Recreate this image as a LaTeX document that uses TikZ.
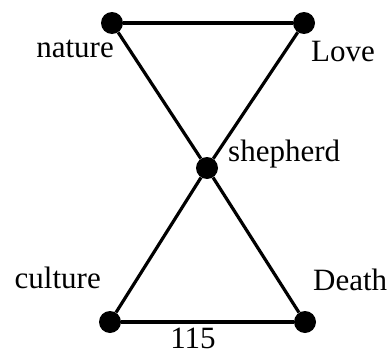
\documentclass[tikz,border=0pt]{standalone}
\usepackage{fontspec}
\setmainfont{Liberation Serif}
\usetikzlibrary{positioning}

\begin{document}
\begin{tikzpicture}[
    x=1pt, y=-1pt,
    dotStyle/.style={circle, fill=black, draw=none, inner sep=0pt, minimum size=22pt},
    labelStyle/.style={inner sep=0pt, font=\fontsize{31}{31}\selectfont},
    edgeStyle/.style={line width=3.2pt, draw=black}
]
    \useasboundingbox (0,0) rectangle (391,356);

    % the five points
    \node[dotStyle] (nature) at (112,23) {};
    \node[dotStyle] (love) at (304,23) {};
    \node[dotStyle] (shepherd) at (207,168) {};
    \node[dotStyle] (culture) at (110,322) {};
    \node[dotStyle] (death) at (305,322) {};

    % their names
    \node[labelStyle, anchor=base east] (natureText) at (114,57) {nature};
    \node[labelStyle, anchor=base west] (loveText) at (311,61) {Love};
    \node[labelStyle, anchor=base west] (shepherdText) at (228,161) {shepherd};
    \node[labelStyle, anchor=base east] (cultureText) at (101,288) {culture};
    \node[labelStyle, anchor=base west] (deathText) at (313,290) {Death};

    % the two triangles
    \draw[edgeStyle] (nature) -- (love);
    \draw[edgeStyle] (nature) -- (shepherd);
    \draw[edgeStyle] (love) -- (shepherd);
    \draw[edgeStyle] (shepherd) -- (culture);
    \draw[edgeStyle] (shepherd) -- (death);
    \draw[edgeStyle] (culture) -- (death);

    \node[labelStyle, anchor=base] (weight) at (193,348) {115};
\end{tikzpicture}
\end{document}
